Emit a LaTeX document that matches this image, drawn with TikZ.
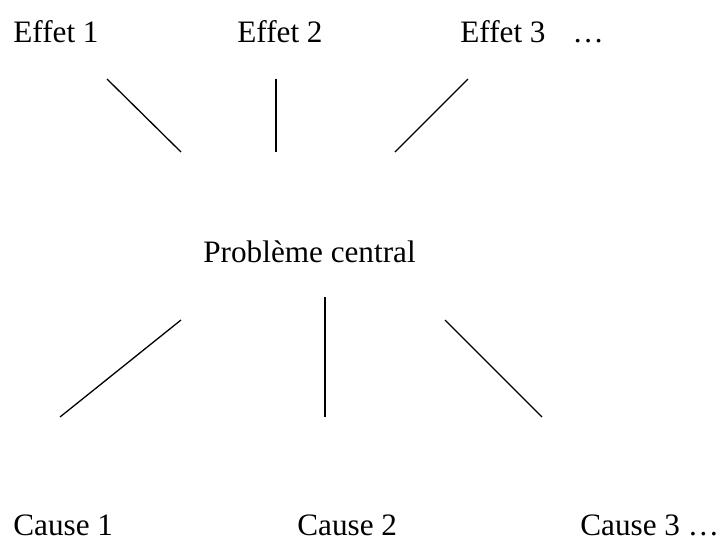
\documentclass[tikz,border=0pt]{standalone}
\usepackage{fontspec}
\setmainfont{Liberation Serif}

\begin{document}
\begin{tikzpicture} [x = 0.5pt, y = -0.5pt, txt/.style = {black, anchor = base west, inner sep = 0pt, text depth = 0pt, font = \fontsize{15.6}{18}\selectfont}, seg/.style = {black, line width = 0.65pt}]
\useasboundingbox (0, 0) rectangle (720, 541);
% effets
\node[txt] (e1) at (13, 42){Effet 1};
\node[txt] (e2) at (237, 42){Effet 2};
\node[txt] (e3) at (460, 42){Effet 3\hspace{13.5pt}…};
% probleme
\node[txt] (pc) at (203, 262){Problème central};
% causes
\node[txt] (c1) at (13, 535){Cause 1};
\node[txt] (c2) at (297, 535){Cause 2};
\node[txt] (c3) at (580, 535){Cause 3 …};
% traits du haut
\coordinate (e1a) at (107, 79);
\coordinate (e1b) at (181, 152);
\coordinate (e2a) at (276, 79);
\coordinate (e2b) at (276, 152);
\coordinate (e3a) at (468, 79);
\coordinate (e3b) at (395, 152);
\draw[seg] (e1a) -- (e1b);
\draw[seg] (e2a) -- (e2b);
\draw[seg] (e3a) -- (e3b);
% traits du bas
\coordinate (c1a) at (181, 320);
\coordinate (c1b) at (60, 417);
\coordinate (c2a) at (325, 297);
\coordinate (c2b) at (325, 417);
\coordinate (c3a) at (445, 320);
\coordinate (c3b) at (542, 417);
\draw[seg] (c1a) -- (c1b);
\draw[seg] (c2a) -- (c2b);
\draw[seg] (c3a) -- (c3b);
\end{tikzpicture}
\end{document}
